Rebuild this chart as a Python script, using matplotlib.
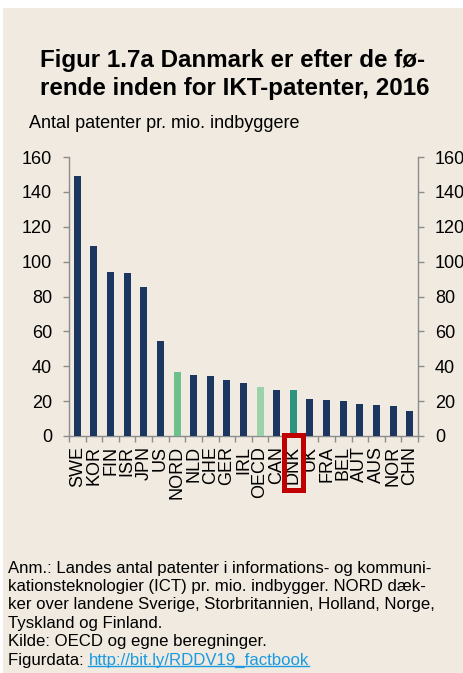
import matplotlib
matplotlib.use("Agg")
import matplotlib.pyplot as plt
from matplotlib.patches import Rectangle
from matplotlib.lines import Line2D
import matplotlib.transforms as mtransforms

plt.rcParams['font.family'] = ['Liberation Sans', 'DejaVu Sans']

countries = ["SWE", "KOR", "FIN", "ISR", "JPN", "US", "NORD", "NLD", "CHE", "GER", "IRL",
             "OECD", "CAN", "DNK", "UK", "FRA", "BEL", "AUT", "AUS", "NOR", "CHN"]
values = [149, 109, 94, 93.3, 85.3, 54.5, 36.5, 34.8, 34.2, 32, 30.2,
          27.9, 26.5, 26.5, 21.2, 20.6, 20, 18.2, 17.8, 17, 14.5]
yticks = [0, 20, 40, 60, 80, 100, 120, 140, 160]

NAVY = "#1b365f"
special = {"NORD": "#6dbf8b", "OECD": "#9bd2aa", "DNK": "#2f947f"}
BG = "#f0eae0"

W, H = 463, 673
fig = plt.figure(figsize=(W / 100, H / 100), dpi=100)
fig.patch.set_facecolor("white")
fig.patches.append(Rectangle((3 / W, 0), 1 - 3 / W, 1 - 8 / H, transform=fig.transFigure,
                             facecolor=BG, edgecolor="none", zorder=-10))

ax = fig.add_axes([69 / W, 1 - 436 / H, (418 - 69) / W, (436 - 157) / H])
ax.set_facecolor("none")

x = list(range(len(countries)))
colors = [special.get(c, NAVY) for c in countries]
ax.bar(x, values, width=0.42, color=colors, zorder=3)

ax.set_xlim(-0.5, len(countries) - 0.5)
ax.set_ylim(0, 160)
ax.set_yticks(yticks)
ax.set_yticklabels([str(t) for t in yticks])
ax.set_xticks(x)
ax.set_xticklabels(countries, rotation=90, fontsize=13)
ax.set_xticks([i - 0.5 for i in range(len(countries) + 1)], minor=True)
ax.tick_params(axis="x", which="major", length=0, pad=7)
ax.tick_params(axis="x", which="minor", length=4.3, width=1, color="#8c8c8c", direction="out")
ax.tick_params(axis="y", which="major", length=4.3, width=1, color="#8c8c8c", direction="out",
               left=True, right=True, labelleft=True, labelright=True, labelsize=13, pad=8)

ax.spines["top"].set_visible(False)
for s in ["left", "right", "bottom"]:
    ax.spines[s].set_color("#8c8c8c")
    ax.spines[s].set_linewidth(1)

# red box around DNK label
idx = countries.index("DNK")
trans = mtransforms.blended_transform_factory(ax.transData, ax.transAxes)
ax.add_patch(Rectangle((idx - 0.58, -0.192), 1.16, 0.195, transform=trans, fill=False,
                       edgecolor="#c00000", linewidth=3.6, clip_on=False, zorder=5))

# title and subtitle
fig.text(40 / W, 1 - 60 / H, "Figur 1.7a Danmark er efter de fø-", fontsize=17.4, fontweight="bold",
         va="center", ha="left", color="black")
fig.text(40 / W, 1 - 88 / H, "rende inden for IKT-patenter, 2016", fontsize=17.4, fontweight="bold",
         va="center", ha="left", color="black")
fig.text(29 / W, 1 - 124 / H, "Antal patenter pr. mio. indbyggere", fontsize=13,
         va="center", ha="left", color="black")

notes = [
    "Anm.: Landes antal patenter i informations- og kommuni-",
    "kationsteknologier (ICT) pr. mio. indbygger. NORD dæk-",
    "ker over landene Sverige, Storbritannien, Holland, Norge,",
    "Tyskland og Finland.",
    "Kilde: OECD og egne beregninger.",
]
y0 = 568
for i, line in enumerate(notes):
    fig.text(8 / W, 1 - (y0 + i * 18.4) / H, line, fontsize=12.1, va="center", ha="left", color="black")

ylast = 1 - (y0 + 5 * 18.4) / H
t1 = fig.text(8 / W, ylast, "Figurdata: ", fontsize=12.1, va="center", ha="left", color="black")
renderer = fig.canvas.get_renderer()
bb1 = t1.get_window_extent(renderer)
t2 = fig.text(bb1.x1 / W, ylast, "http://bit.ly/RDDV19_factbook", fontsize=12.1, va="center",
              ha="left", color="#1a9be0")
bb2 = t2.get_window_extent(renderer)
uy = (bb2.y0 + 2) / H
fig.lines.append(Line2D([bb2.x0 / W, bb2.x1 / W], [uy, uy], transform=fig.transFigure,
                        color="#1a9be0", linewidth=1))

fig.savefig("out.png", dpi=100, facecolor=fig.get_facecolor())
